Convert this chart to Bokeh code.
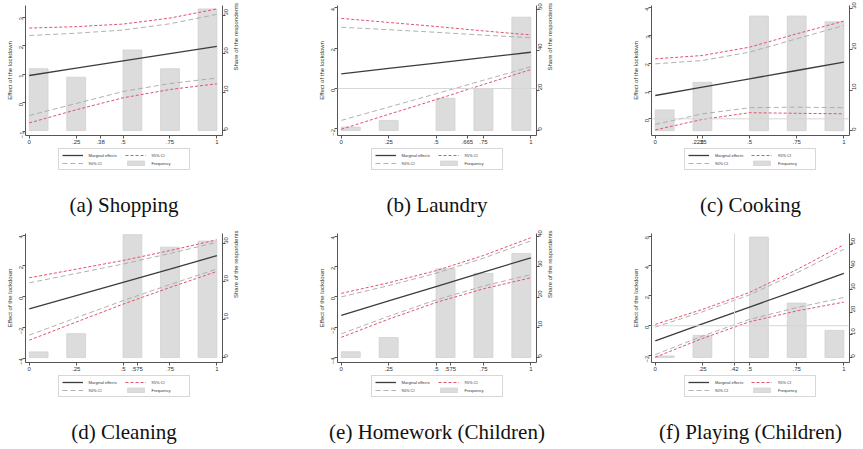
import math
from bokeh.plotting import figure
from bokeh.models import Range1d, LinearAxis, FixedTicker, Legend, LegendItem, Title, Span
from bokeh.layouts import row, column
from bokeh.embed import file_html
from bokeh.resources import INLINE

# ---------------- data ----------------
x_points = [0, 0.25, 0.5, 0.75, 1]          # points where the curves were read
share_values = [0, 0.25, 0.5, 0.75, 1]      # categories of the histogram

captions = ["(a) Shopping", "(b) Laundry", "(c) Cooking",
            "(d) Cleaning", "(e) Homework (Children)", "(f) Playing (Children)"]
mean_ticks = [0.38, 0.665, 0.225, 0.575, 0.575, 0.42]
mean_tick_labels = [".38", ".665", ".225", ".575", ".575", ".42"]

shopping_me = [0.96, 1.215, 1.47, 1.725, 1.98]
shopping_hi95 = [2.62, 2.67, 2.76, 2.97, 3.29]
shopping_lo95 = [-0.70, -0.24, 0.18, 0.47, 0.67]
shopping_hi90 = [2.36, 2.44, 2.55, 2.77, 3.10]
shopping_lo90 = [-0.44, -0.02, 0.40, 0.68, 0.87]
shopping_freq = [16.1, 13.9, 21.0, 16.1, 31.7]

laundry_me = [0.73, 1.00, 1.265, 1.53, 1.80]
laundry_hi95 = [3.48, 3.28, 3.08, 2.86, 2.66]
laundry_lo95 = [-2.02, -1.28, -0.55, 0.20, 0.94]
laundry_hi90 = [3.04, 2.92, 2.79, 2.65, 2.52]
laundry_lo90 = [-1.58, -0.92, -0.26, 0.41, 1.08]
laundry_freq = [1.7, 5.0, 16.0, 20.9, 56.4]

cooking_me = [0.84, 1.14, 1.44, 1.74, 2.04]
cooking_hi95 = [2.16, 2.28, 2.58, 3.06, 3.52]
cooking_lo95 = [-0.40, -0.02, 0.22, 0.20, 0.18]
cooking_hi90 = [1.98, 2.10, 2.40, 2.88, 3.36]
cooking_lo90 = [-0.20, 0.18, 0.40, 0.42, 0.40]
cooking_freq = [5.1, 11.9, 28.2, 28.2, 26.8]

cleaning_me = [-0.80, 0.07, 0.935, 1.80, 2.67]
cleaning_hi95 = [1.23, 1.79, 2.355, 3.00, 3.70]
cleaning_lo95 = [-2.83, -1.65, -0.485, 0.60, 1.64]
cleaning_hi90 = [0.90, 1.51, 2.125, 2.81, 3.54]
cleaning_lo90 = [-2.50, -1.37, -0.255, 0.79, 1.80]
cleaning_freq = [1.5, 6.3, 32.4, 29.1, 30.7]

homework_me = [-1.22, -0.27, 0.68, 1.63, 2.58]
homework_hi95 = [0.23, 0.93, 1.73, 2.73, 3.90]
homework_lo95 = [-2.67, -1.47, -0.37, 0.53, 1.26]
homework_hi90 = [0.00, 0.74, 1.56, 2.55, 3.69]
homework_lo90 = [-2.44, -1.28, -0.20, 0.71, 1.47]
homework_freq = [1.9, 6.6, 29.4, 27.9, 34.5]

playing_me = [-1.01, 0.12, 1.245, 2.37, 3.50]
playing_hi95 = [0.09, 1.09, 2.225, 3.75, 5.42]
playing_lo95 = [-2.11, -0.85, 0.265, 0.99, 1.58]
playing_hi90 = [-0.09, 0.93, 2.065, 3.53, 5.11]
playing_lo90 = [-1.93, -0.69, 0.425, 1.21, 1.89]
playing_freq = [0.7, 9.8, 53.3, 24.1, 12.0]

left_ticks = [[-1, 0, 1, 2, 3], [-2, 0, 2, 4], [0, 1, 2, 3, 4],
              [-4, -2, 0, 2, 4], [-4, -2, 0, 2, 4], [-2, 0, 2, 4, 6]]
right_ticks = [[0, 10, 20, 30], [0, 20, 40, 60], [0, 10, 20, 30],
               [0, 10, 20, 30], [0, 10, 20, 30, 40], [0, 10, 20, 30, 40, 50]]

# ---------------- layout / style ----------------
left_ranges = [(-1.14, 3.41), (-2.33, 4.12), (-0.6, 4.08),
               (-4.28, 4.11), (-4.33, 4.18), (-2.46, 6.17)]
right_ranges = [(-1.3, 32.6), (-2.5, 62.2), (-1.2, 30.8),
                (-1.3, 32.7), (-1.65, 41.1), (-2.2, 54.9)]
zero_line = [False, True, True, False, False, True]
mean_line = [False, False, False, False, False, True]

col_w = [300, 315, 248]
col_bl = [25, 37, 36]
col_br = [78, 79, 14]
plot_h = [148, 147]
plot_bt = [5, 5]
plot_bb = 13
bottom_h = [80, 74]
legend_area = 42   # px of the bottom area above the caption

FONT = "Liberation Sans"
CAP_FONT = "Liberation Serif"
ME_COL = "#3c3c3c"
CI95_COL = "#e4536d"
CI90_COL = "#a8a8a8"
BAR_FILL = "#dcdcdc"
BAR_LINE = "#d0d0d0"
AX_COL = "#555555"
TXT_COL = "#333333"

panels = [
    (shopping_me, shopping_hi95, shopping_lo95, shopping_hi90, shopping_lo90, shopping_freq),
    (laundry_me, laundry_hi95, laundry_lo95, laundry_hi90, laundry_lo90, laundry_freq),
    (cooking_me, cooking_hi95, cooking_lo95, cooking_hi90, cooking_lo90, cooking_freq),
    (cleaning_me, cleaning_hi95, cleaning_lo95, cleaning_hi90, cleaning_lo90, cleaning_freq),
    (homework_me, homework_hi95, homework_lo95, homework_hi90, homework_lo90, homework_freq),
    (playing_me, playing_hi95, playing_lo95, playing_hi90, playing_lo90, playing_freq),
]

ME_STYLE = dict(line_color=ME_COL, line_width=1.3)
CI95_STYLE = dict(line_color=CI95_COL, line_width=1, line_dash="3 2")
CI90_STYLE = dict(line_color=CI90_COL, line_width=0.9, line_dash="5 3")
BAR_STYLE = dict(fill_color=BAR_FILL, line_color=BAR_LINE, line_width=0.8)


def style_axis(ax):
    ax.axis_line_color = AX_COL
    ax.axis_line_width = 1
    ax.major_tick_line_color = AX_COL
    ax.major_tick_out = 3
    ax.major_tick_in = 0
    ax.minor_tick_line_color = None
    ax.major_label_text_font = FONT
    ax.major_label_text_font_size = "6px"
    ax.major_label_text_color = TXT_COL
    ax.major_label_standoff = 1
    ax.axis_label_text_font = FONT
    ax.axis_label_text_font_size = "6px"
    ax.axis_label_text_font_style = "normal"
    ax.axis_label_text_color = TXT_COL
    ax.axis_label_standoff = 2


def make_plot(i):
    r, c = divmod(i, 3)
    me, hi95, lo95, hi90, lo90, freq = panels[i]
    p = figure(width=col_w[c], height=plot_h[r],
               x_range=Range1d(-0.02, 1.03),
               y_range=Range1d(*left_ranges[i]),
               output_backend="svg", toolbar_location=None,
               min_border_left=col_bl[c], min_border_right=col_br[c],
               min_border_top=plot_bt[r], min_border_bottom=plot_bb)
    p.outline_line_color = None
    p.grid.visible = False
    p.extra_y_ranges = {"share": Range1d(*right_ranges[i])}

    # histogram bars (bins of width .1)
    lefts = [min(math.floor(v * 10 + 1e-9) / 10, 0.9) for v in share_values]
    rights = [l + 0.1 for l in lefts]
    p.quad(left=lefts, right=rights, bottom=[0] * len(freq), top=freq,
           y_range_name="share", **BAR_STYLE)

    if zero_line[i]:
        p.add_layout(Span(location=0, dimension="width", line_color="#d6d6d6", line_width=1))
    if mean_line[i]:
        p.add_layout(Span(location=mean_ticks[i], dimension="height", line_color="#d6d6d6", line_width=1))

    p.multi_line(xs=[x_points, x_points], ys=[hi90, lo90], **CI90_STYLE)
    p.multi_line(xs=[x_points, x_points], ys=[hi95, lo95], **CI95_STYLE)
    p.line(x_points, me, **ME_STYLE)

    xa = p.xaxis[0]
    style_axis(xa)
    ticks = sorted([0, 0.25, 0.5, 0.75, 1, mean_ticks[i]])
    xa.ticker = FixedTicker(ticks=ticks)
    xa.major_label_overrides = {0: "0", 0.25: ".25", 0.5: ".5", 0.75: ".75", 1: "1",
                                mean_ticks[i]: mean_tick_labels[i]}

    ya = p.yaxis[0]
    style_axis(ya)
    ya.ticker = FixedTicker(ticks=left_ticks[i])
    ya.major_label_orientation = math.pi / 2
    ya.axis_label = "Effect of the lockdown"

    ra = LinearAxis(y_range_name="share", ticker=FixedTicker(ticks=right_ticks[i]))
    style_axis(ra)
    ra.major_label_orientation = math.pi / 2
    if c < 2:
        ra.axis_label = "Share of the respondents"
        ra.axis_label_orientation = math.pi / 2
    p.add_layout(ra, "right")
    return p


def make_bottom(i):
    r, c = divmod(i, 3)
    h = bottom_h[r]
    q = figure(width=col_w[c], height=h, x_range=Range1d(0, 1), y_range=Range1d(0, 1),
               x_axis_location=None, y_axis_location=None,
               output_backend="svg", toolbar_location=None,
               min_border_left=col_bl[c], min_border_right=col_br[c],
               min_border_top=0, min_border_bottom=h - legend_area)
    q.outline_line_color = None
    q.grid.visible = False
    # renderers (kept outside the visible range) that only provide legend samples
    rme = q.line([-2, -1], [-2, -1], **ME_STYLE)
    r95 = q.line([-2, -1], [-2, -1], **CI95_STYLE)
    r90 = q.line([-2, -1], [-2, -1], **CI90_STYLE)
    rbar = q.quad(left=[-2], right=[-1], bottom=[-2], top=[-1], **BAR_STYLE)

    # items fill column by column: (ME, 90% CI) | (95% CI, Frequency)
    legend = Legend(items=[LegendItem(label="Marginal effects", renderers=[rme]),
                           LegendItem(label="90% CI", renderers=[r90]),
                           LegendItem(label="95% CI", renderers=[r95]),
                           LegendItem(label="Frequency", renderers=[rbar])],
                    ncols=2, location="top_center")
    legend.label_text_font = FONT
    legend.label_text_font_size = "4px"
    legend.label_text_color = TXT_COL
    legend.glyph_width = 21
    legend.glyph_height = 6
    legend.label_height = 6
    legend.label_width = 34
    legend.label_standoff = 6
    legend.spacing = 2
    legend.padding = 3
    legend.margin = 0
    legend.border_line_color = "#b0b0b0"
    legend.border_line_width = 1
    legend.background_fill_color = "white"
    q.add_layout(legend, "center")

    q.add_layout(Title(text=captions[i], align="center", standoff=0,
                       text_font=CAP_FONT, text_font_size="21px",
                       text_font_style="normal", text_color="#111111"), "below")
    return q


cols = [column(make_plot(i), make_bottom(i)) for i in range(6)]
layout = column(row(*cols[:3]), row(*cols[3:]))
open("out.html", "w").write(file_html(layout, INLINE))
